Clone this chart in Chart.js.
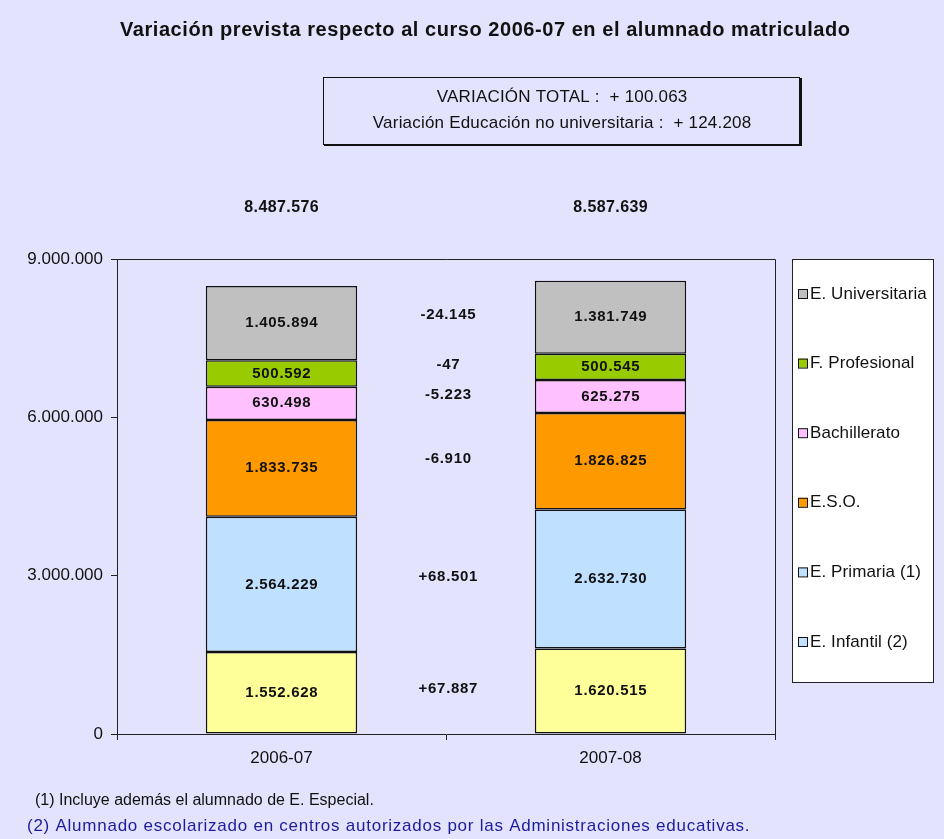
<!DOCTYPE html>
<html>
<head>
<meta charset="utf-8">
<script src="https://cdn.jsdelivr.net/npm/chart.js@4.4.1/dist/chart.umd.min.js"></script>
<style>
  body { margin: 0; background: #e3e3fd; }
  canvas { display: block; }
</style>
</head>
<body>
<canvas id="chart" width="944" height="839"></canvas>
<script>
// curso escolar
const cursos = ["2006-07", "2007-08"];
// alumnado por nivel (de abajo arriba en la pila)
const infantil = [1552628, 1620515];
const primaria = [2564229, 2632730];
const eso = [1833735, 1826825];
const bachillerato = [630498, 625275];
const fProfesional = [500592, 500545];
const universitaria = [1405894, 1381749];
const niveles = ["E. Infantil (2)", "E. Primaria (1)", "E.S.O.", "Bachillerato", "F. Profesional", "E. Universitaria"];
const yTicks = [0, 3000000, 6000000, 9000000];

const colores = ["#ffff99", "#bfe0ff", "#ff9900", "#ffc0ff", "#99cc00", "#c0c0c0"];
// en el original la muestra de E. Infantil sale en azul claro
const coloresLeyenda = ["#bfe0ff", "#bfe0ff", "#ff9900", "#ffc0ff", "#99cc00", "#c0c0c0"];

const series = [infantil, primaria, eso, bachillerato, fProfesional, universitaria];

function fmt(n) {
  return String(Math.abs(n)).replace(/\B(?=(\d{3})+(?!\d))/g, ".");
}

function txt(ctx, s, x, y, font, color, align, spacing) {
  ctx.save();
  ctx.font = font;
  ctx.fillStyle = color;
  ctx.textAlign = align || "center";
  ctx.textBaseline = "middle";
  ctx.letterSpacing = (spacing || 0) + "px";
  let dx = 0;
  if (align === undefined || align === "center") dx = (spacing || 0) / 2;
  ctx.fillText(s, x + dx, y);
  ctx.restore();
}

const extras = {
  id: "extras",
  afterDraw(chart) {
    const ctx = chart.ctx;
    const a = chart.chartArea;
    const xs = chart.scales.x;

    // marco del área de trazado (arriba y derecha)
    ctx.save();
    ctx.strokeStyle = "#222";
    ctx.lineWidth = 1;
    ctx.beginPath();
    ctx.moveTo(a.left, a.top + 0.5);
    ctx.lineTo(a.right + 0.5, a.top + 0.5);
    ctx.lineTo(a.right + 0.5, a.bottom);
    ctx.stroke();
    ctx.restore();

    const boldNum = "bold 15px Arial";

    // valores dentro de cada tramo
    chart.data.datasets.forEach((ds, di) => {
      const meta = chart.getDatasetMeta(di);
      meta.data.forEach((bar, i) => {
        const yc = (bar.y + bar.base) / 2;
        txt(ctx, fmt(ds.data[i]), bar.x, yc, boldNum, "#111", "center", 0.7);
      });
    });

    // variación entre cursos, en el centro
    const xMid = (xs.getPixelForValue(0) + xs.getPixelForValue(1)) / 2;
    chart.data.datasets.forEach((ds, di) => {
      const bar = chart.getDatasetMeta(di).data[1];
      const d = ds.data[1] - ds.data[0];
      const yc = (bar.y + bar.base) / 2;
      txt(ctx, (d > 0 ? "+" : "-") + fmt(d), xMid + 2, yc - 2, boldNum, "#111", "center", 0.7);
    });

    // totales encima de cada barra
    const totales = cursos.map((c, i) => series.reduce((s, arr) => s + arr[i], 0));
    totales.forEach((t, i) => {
      txt(ctx, fmt(t), xs.getPixelForValue(i), 208, "bold 16px Arial", "#111", "center", 0.4);
    });

    // título
    txt(ctx, "Variación prevista respecto al curso 2006-07 en el alumnado matriculado",
      485, 30, "bold 20px Arial", "#111", "center", 0.55);

    // recuadro con las variaciones
    const varTotal = totales[1] - totales[0];
    const varNoUniv = varTotal - (universitaria[1] - universitaria[0]);
    ctx.save();
    ctx.strokeStyle = "#111";
    ctx.lineWidth = 1;
    ctx.strokeRect(323.5, 77.5, 476, 67);
    ctx.lineWidth = 2;
    ctx.beginPath();
    ctx.moveTo(324, 145);
    ctx.lineTo(801, 145);
    ctx.lineTo(801, 78);
    ctx.stroke();
    ctx.restore();
    txt(ctx, "VARIACIÓN TOTAL :  + " + fmt(varTotal), 562, 97, "17px Arial", "#111", "center", 0.2);
    txt(ctx, "Variación Educación no universitaria :  + " + fmt(varNoUniv), 562, 123, "17px Arial", "#111", "center", 0.2);

    // leyenda
    ctx.save();
    ctx.fillStyle = "#ffffff";
    ctx.fillRect(792, 259, 141, 423);
    ctx.strokeStyle = "#222";
    ctx.lineWidth = 1;
    ctx.strokeRect(792.5, 259.5, 141, 423);
    ctx.restore();
    const ordenLeyenda = [5, 4, 3, 2, 1, 0];
    ordenLeyenda.forEach((di, k) => {
      const y = 293 + k * 69.6;
      ctx.save();
      ctx.fillStyle = coloresLeyenda[di];
      ctx.fillRect(798, y - 4, 9, 9);
      ctx.strokeStyle = "#111";
      ctx.lineWidth = 1;
      ctx.strokeRect(798.5, y - 3.5, 9, 9);
      ctx.restore();
      txt(ctx, chart.data.datasets[di].label, 810, y + 1, "17px Arial", "#111", "left", 0.1);
    });

    // notas
    txt(ctx, "(1) Incluye además el alumnado de E. Especial.", 35, 801, "16px Arial", "#111", "left", 0);
    txt(ctx, "(2) Alumnado escolarizado en centros autorizados por las Administraciones educativas.",
      27, 826, "17px Arial", "#1c1c9c", "left", 0.75);
  }
};

new Chart("chart", {
  type: "bar",
  data: {
    labels: cursos,
    datasets: series.map((arr, i) => ({
      label: niveles[i],
      data: arr,
      backgroundColor: colores[i],
      borderColor: "#111",
      borderWidth: 1.5,
      borderSkipped: false,
      categoryPercentage: 1,
      barPercentage: 0.46
    }))
  },
  options: {
    responsive: false,
    animation: false,
    layout: { padding: { top: 259, right: 169, left: 0, bottom: 0 } },
    plugins: {
      legend: { display: false },
      tooltip: { enabled: false }
    },
    scales: {
      x: {
        stacked: true,
        grid: { drawOnChartArea: false, offset: true, tickLength: 6, color: "#222" },
        border: { color: "#222" },
        ticks: { font: { family: "Arial", size: 17 }, color: "#111", padding: 8 },
        afterFit(s) { s.height = 105; }
      },
      y: {
        stacked: true,
        min: 0,
        max: 9000000,
        afterBuildTicks(s) { s.ticks = yTicks.map(v => ({ value: v })); },
        grid: { drawOnChartArea: false, tickLength: 6, color: "#222" },
        border: { color: "#222" },
        ticks: {
          font: { family: "Arial", size: 17 },
          color: "#111",
          padding: 8,
          callback: v => fmt(v)
        },
        afterFit(s) { s.width = 117; }
      }
    }
  },
  plugins: [extras]
});
</script>
</body>
</html>
